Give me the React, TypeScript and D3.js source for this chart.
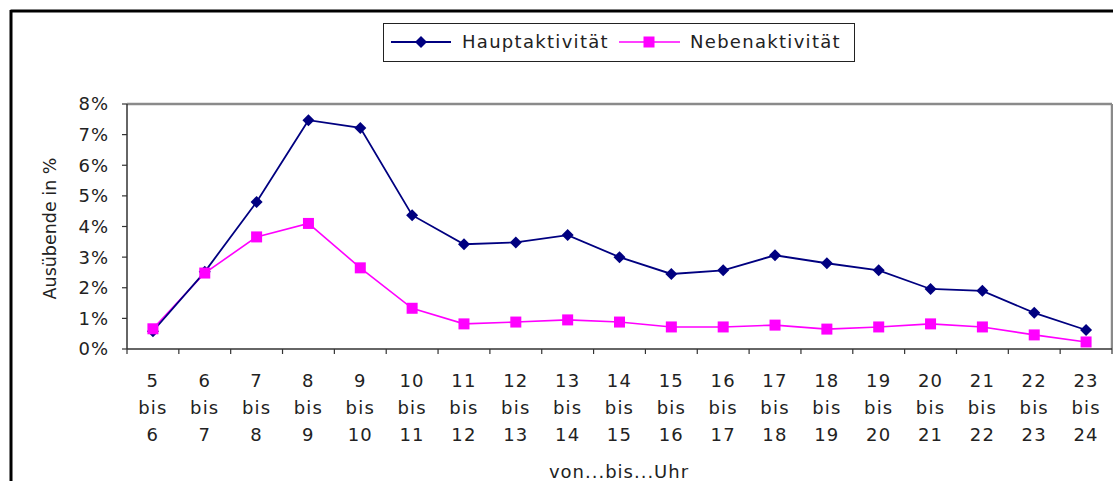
import React from "react";
import * as d3 from "d3";

const categories = [
  ["5", "bis", "6"], ["6", "bis", "7"], ["7", "bis", "8"], ["8", "bis", "9"], ["9", "bis", "10"],
  ["10", "bis", "11"], ["11", "bis", "12"], ["12", "bis", "13"], ["13", "bis", "14"], ["14", "bis", "15"],
  ["15", "bis", "16"], ["16", "bis", "17"], ["17", "bis", "18"], ["18", "bis", "19"], ["19", "bis", "20"],
  ["20", "bis", "21"], ["21", "bis", "22"], ["22", "bis", "23"], ["23", "bis", "24"],
];
const haupt = [0.58, 2.52, 4.8, 7.47, 7.22, 4.37, 3.42, 3.48, 3.72, 3.0, 2.45, 2.57, 3.06, 2.8, 2.57, 1.96, 1.9, 1.18, 0.62];
const neben = [0.66, 2.48, 3.66, 4.1, 2.65, 1.33, 0.82, 0.88, 0.95, 0.88, 0.72, 0.72, 0.78, 0.65, 0.72, 0.82, 0.72, 0.46, 0.23];
const yTicks = [0, 1, 2, 3, 4, 5, 6, 7, 8];
const seriesNames = ["Hauptaktivität", "Nebenaktivität"];

const FONT = "'DejaVu Sans', sans-serif";

export default function App() {
  const W = 1113, H = 481;
  const left = 127, right = 1112, top = 104, bottom = 349;
  const x = d3.scaleBand<number>().domain(d3.range(categories.length)).range([left, right]).paddingInner(0).paddingOuter(0);
  const y = d3.scaleLinear().domain([0, 8]).range([bottom, top]);
  const cx = (i: number) => (x(i) as number) + x.bandwidth() / 2;
  const line = d3.line<number>().x((_, i) => cx(i)).y((d) => y(d));
  const diamond = (px: number, py: number, r = 6) => `M${px},${py - r}L${px + r},${py}L${px},${py + r}L${px - r},${py}Z`;
  const sq = 5.5;
  const textColor = "#222";

  return (
    <svg width={W} height={H} style={{ position: "absolute", left: 0, top: 0, background: "#fff" }} fontFamily={FONT}>
      <rect x={0} y={0} width={W} height={H} fill="#fff" />
      {/* outer frame */}
      <line x1={10.5} y1={11} x2={W} y2={11} stroke="#000" strokeWidth={3} />
      <line x1={11} y1={10} x2={11} y2={H} stroke="#000" strokeWidth={3} />

      {/* plot frame top/right */}
      <line x1={left} y1={top} x2={right} y2={top} stroke="#8a8a8a" strokeWidth={2.5} />
      <line x1={right} y1={top} x2={right} y2={bottom} stroke="#8a8a8a" strokeWidth={2.5} />

      {/* y axis */}
      <line x1={left} y1={top} x2={left} y2={bottom} stroke="#333" strokeWidth={1.5} />
      {yTicks.map((t) => (
        <g key={t}>
          <line x1={left - 5} x2={left} y1={y(t)} y2={y(t)} stroke="#333" strokeWidth={1.2} />
          <text x={left - 18} y={y(t)} dy="0.36em" textAnchor="end" fontSize={18} letterSpacing={1} fill={textColor}>{`${t}%`}</text>
        </g>
      ))}
      <text transform={`translate(56,${(top + bottom) / 2 + 2}) rotate(-90)`} textAnchor="middle" fontSize={17.5} fill={textColor}>Ausübende in %</text>

      {/* x axis */}
      <line x1={left} y1={bottom} x2={right} y2={bottom} stroke="#333" strokeWidth={1.5} />
      {d3.range(categories.length + 1).map((i) => {
        const px = left + i * x.bandwidth();
        return <line key={i} x1={px} x2={px} y1={bottom} y2={bottom + 5} stroke="#333" strokeWidth={1.2} />;
      })}
      {categories.map((c, i) => (
        <text key={i} x={cx(i)} textAnchor="middle" fontSize={18} letterSpacing={1.2} fill={textColor}>
          {c.map((s, j) => (
            <tspan key={j} x={cx(i)} y={386.5 + j * 27}>{s}</tspan>
          ))}
        </text>
      ))}
      <text x={619} y={478} textAnchor="middle" fontSize={18} letterSpacing={1} fill={textColor}>von...bis...Uhr</text>

      {/* series */}
      <path d={line(neben) ?? ""} fill="none" stroke="#ff00ff" strokeWidth={1.6} />
      <path d={line(haupt) ?? ""} fill="none" stroke="#000080" strokeWidth={1.8} />
      {haupt.map((v, i) => (
        <path key={"h" + i} d={diamond(cx(i), y(v))} fill="#000080" />
      ))}
      {neben.map((v, i) => (
        <rect key={"n" + i} x={cx(i) - sq} y={y(v) - sq} width={sq * 2} height={sq * 2} fill="#ff00ff" />
      ))}

      {/* legend */}
      <rect x={383.5} y={23.5} width={471} height={38} fill="#fff" stroke="#222" strokeWidth={1} />
      <line x1={391} x2={451} y1={42} y2={42} stroke="#000080" strokeWidth={1.8} />
      <path d={diamond(421, 42)} fill="#000080" />
      <text x={462} y={42} dy="0.36em" fontSize={18} fill={textColor} letterSpacing={1.3}>{seriesNames[0]}</text>
      <line x1={619} x2={680} y1={42} y2={42} stroke="#ff00ff" strokeWidth={1.6} />
      <rect x={649 - sq} y={42 - sq} width={sq * 2} height={sq * 2} fill="#ff00ff" />
      <text x={690} y={42} dy="0.36em" fontSize={18} fill={textColor} letterSpacing={1.3}>{seriesNames[1]}</text>
    </svg>
  );
}
